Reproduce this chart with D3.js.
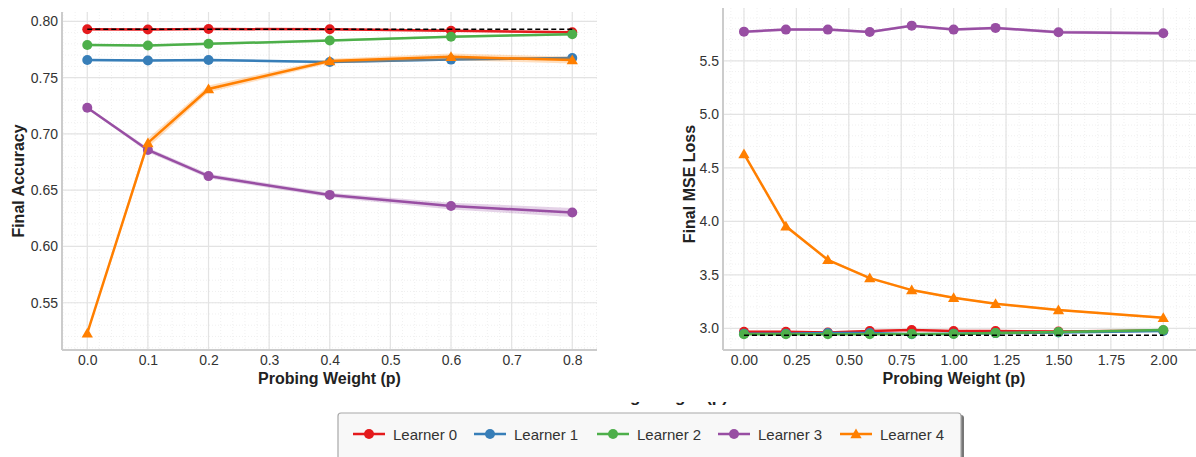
<!DOCTYPE html>
<html>
<head>
<meta charset="utf-8">
<script src="https://cdn.jsdelivr.net/npm/d3@7"></script>
<style>
  body { margin: 0; background: #fff; }
  svg text { font-family: "Liberation Sans", Arial, sans-serif; }
</style>
</head>
<body>
<svg id="chart" width="1196" height="457"></svg>
<script>
// ---- data ----
const learnerNames = ['Learner 0', 'Learner 1', 'Learner 2', 'Learner 3', 'Learner 4'];
const learnerColors = ['#e41a1c', '#377eb8', '#4daf4a', '#984ea3', '#ff7f00'];

const accX = [0.0, 0.1, 0.2, 0.4, 0.6, 0.8];
const accMean = [
  [0.7929, 0.7928, 0.7932, 0.7929, 0.7917, 0.7903],
  [0.7656, 0.7652, 0.7656, 0.7638, 0.7660, 0.7674],
  [0.7790, 0.7785, 0.7800, 0.7829, 0.7864, 0.7885],
  [0.7233, 0.6857, 0.6625, 0.6458, 0.6359, 0.6302],
  [0.5229, 0.6920, 0.7399, 0.7647, 0.7685, 0.7656]
];
const accStd = [
  [0.001, 0.001, 0.001, 0.001, 0.001, 0.001],
  [0.001, 0.001, 0.001, 0.001, 0.001, 0.001],
  [0.001, 0.001, 0.001, 0.001, 0.001, 0.001],
  [0.001, 0.002, 0.002, 0.002, 0.003, 0.004],
  [0.001, 0.004, 0.003, 0.002, 0.003, 0.003]
];
const accBaseline = 0.7929;
const accTicksX = [0.0, 0.1, 0.2, 0.3, 0.4, 0.5, 0.6, 0.7, 0.8];
const accTicksY = [0.55, 0.60, 0.65, 0.70, 0.75, 0.80];

const mseX = [0.0, 0.2, 0.4, 0.6, 0.8, 1.0, 1.2, 1.5, 2.0];
const mseMean = [
  [2.968, 2.968, 2.960, 2.975, 2.984, 2.975, 2.975, 2.970, 2.980],
  [2.950, 2.950, 2.955, 2.955, 2.945, 2.950, 2.955, 2.960, 2.975],
  [2.944, 2.944, 2.945, 2.945, 2.947, 2.947, 2.955, 2.965, 2.984],
  [5.773, 5.792, 5.792, 5.770, 5.829, 5.792, 5.808, 5.768, 5.758],
  [4.630, 3.953, 3.640, 3.469, 3.357, 3.285, 3.229, 3.170, 3.099]
];
const mseStd = [
  [0.008, 0.008, 0.008, 0.008, 0.008, 0.008, 0.008, 0.008, 0.008],
  [0.008, 0.008, 0.008, 0.008, 0.008, 0.008, 0.008, 0.008, 0.008],
  [0.008, 0.008, 0.008, 0.008, 0.008, 0.008, 0.008, 0.008, 0.008],
  [0.012, 0.012, 0.012, 0.012, 0.012, 0.012, 0.012, 0.015, 0.015],
  [0.010, 0.010, 0.010, 0.010, 0.010, 0.010, 0.010, 0.010, 0.010]
];
const mseBaseline = 2.934;
const mseTicksX = [0.0, 0.25, 0.5, 0.75, 1.0, 1.25, 1.5, 1.75, 2.0];
const mseTicksY = [3.0, 3.5, 4.0, 4.5, 5.0, 5.5];

const svg = d3.select('#chart');

function drawPanel(cfg){
  const x = d3.scaleLinear().domain(cfg.xDomain).range([cfg.left, cfg.right]);
  const y = d3.scaleLinear().domain(cfg.yDomain).range([cfg.bottom, cfg.top]);
  const g = svg.append('g');

  const clipId = 'clip-' + cfg.id;
  svg.append('clipPath').attr('id', clipId)
     .append('rect')
     .attr('x', cfg.left).attr('y', cfg.top)
     .attr('width', cfg.right - cfg.left).attr('height', cfg.bottom - cfg.top);

  // minor grid
  const minorX = d3.range(cfg.xDomain[0] - cfg.xDomain[0] % cfg.minorXStep, cfg.xDomain[1], cfg.minorXStep);
  const minorY = d3.range(Math.ceil(cfg.yDomain[0] / cfg.minorYStep) * cfg.minorYStep, cfg.yDomain[1], cfg.minorYStep);
  const grid = g.append('g').attr('clip-path', 'url(#' + clipId + ')');
  grid.selectAll('line.mx').data(minorX).enter().append('line')
      .attr('x1', d => x(d)).attr('x2', d => x(d))
      .attr('y1', cfg.top).attr('y2', cfg.bottom)
      .attr('stroke', '#ececec').attr('stroke-width', 0.8).attr('stroke-dasharray', '1,2');
  grid.selectAll('line.my').data(minorY).enter().append('line')
      .attr('x1', cfg.left).attr('x2', cfg.right)
      .attr('y1', d => y(d)).attr('y2', d => y(d))
      .attr('stroke', '#ececec').attr('stroke-width', 0.8).attr('stroke-dasharray', '1,2');

  // major grid
  grid.selectAll('line.gx').data(cfg.ticksX).enter().append('line')
      .attr('x1', d => x(d)).attr('x2', d => x(d))
      .attr('y1', cfg.top).attr('y2', cfg.bottom)
      .attr('stroke', '#e3e3e3').attr('stroke-width', 1.2);
  grid.selectAll('line.gy').data(cfg.ticksY).enter().append('line')
      .attr('x1', cfg.left).attr('x2', cfg.right)
      .attr('y1', d => y(d)).attr('y2', d => y(d))
      .attr('stroke', '#e3e3e3').attr('stroke-width', 1.2);

  // spines
  g.append('line').attr('x1', cfg.left).attr('x2', cfg.left)
   .attr('y1', cfg.top).attr('y2', cfg.bottom)
   .attr('stroke', '#cccccc').attr('stroke-width', 2);
  g.append('line').attr('x1', cfg.left).attr('x2', cfg.right)
   .attr('y1', cfg.bottom).attr('y2', cfg.bottom)
   .attr('stroke', '#cccccc').attr('stroke-width', 2);

  // tick labels via d3 axes (no tick lines)
  const xAxis = g.append('g').attr('transform', 'translate(0,' + cfg.bottom + ')')
     .call(d3.axisBottom(x).tickValues(cfg.ticksX).tickFormat(d3.format(cfg.xFmt)).tickSize(0).tickPadding(5));
  const yAxis = g.append('g').attr('transform', 'translate(' + cfg.left + ',0)')
     .call(d3.axisLeft(y).tickValues(cfg.ticksY).tickFormat(d3.format(cfg.yFmt)).tickSize(0).tickPadding(4));
  [xAxis, yAxis].forEach(a => {
    a.select('.domain').remove();
    a.selectAll('text').attr('font-size', 14).attr('fill', '#333')
     .style('font-family', '"Liberation Sans", Arial, sans-serif');
  });

  // axis titles
  g.append('text').text('Probing Weight (p)')
   .attr('x', (cfg.left + cfg.labelRight) / 2).attr('y', 384)
   .attr('text-anchor', 'middle').attr('font-size', 16).attr('font-weight', 'bold').attr('fill', '#222');
  g.append('text').text(cfg.yLabel)
   .attr('transform', 'translate(' + cfg.yLabelX + ',' + cfg.yLabelY + ') rotate(-90)')
   .attr('text-anchor', 'middle').attr('font-size', 16).attr('font-weight', 'bold').attr('fill', '#222');

  const plot = g.append('g').attr('clip-path', 'url(#' + clipId + ')');
  const band = d3.area().x(d => x(d.x)).y0(d => y(d.m - d.s)).y1(d => y(d.m + d.s));
  const line = d3.line().x(d => x(d.x)).y(d => y(d.m));

  cfg.mean.forEach((series, i) => {
    const pts = series.map((m, j) => ({x: cfg.xs[j], m: m, s: cfg.std[i][j]}));
    plot.append('path').datum(pts).attr('d', band)
        .attr('fill', learnerColors[i]).attr('opacity', 0.25);
    plot.append('path').datum(pts).attr('d', line)
        .attr('fill', 'none').attr('stroke', learnerColors[i]).attr('stroke-width', 2.5);
    if (i === 4) {
      plot.selectAll('path.m' + i).data(pts).enter().append('path')
          .attr('d', d3.symbol().type(d3.symbolTriangle).size(55))
          .attr('transform', d => 'translate(' + x(d.x) + ',' + (y(d.m) + 1) + ')')
          .attr('fill', learnerColors[i]);
    } else {
      plot.selectAll('circle.m' + i).data(pts).enter().append('circle')
          .attr('cx', d => x(d.x)).attr('cy', d => y(d.m)).attr('r', 5)
          .attr('fill', learnerColors[i]);
    }
  });

  plot.append('line')
      .attr('x1', x(cfg.xs[0])).attr('x2', x(cfg.xs[cfg.xs.length - 1]))
      .attr('y1', y(cfg.baseline)).attr('y2', y(cfg.baseline))
      .attr('stroke', '#000').attr('stroke-width', 1.5).attr('stroke-dasharray', '5,3');
}

drawPanel({
  id: 'acc', left: 62, right: 597, top: 12, bottom: 350, labelRight: 597,
  xDomain: [-0.0417, 0.8408], yDomain: [0.508, 0.8083],
  minorXStep: 0.02, minorYStep: 0.01,
  ticksX: accTicksX, ticksY: accTicksY, xFmt: '.1f', yFmt: '.2f',
  xs: accX, mean: accMean, std: accStd, baseline: accBaseline,
  yLabel: 'Final Accuracy', yLabelX: 24, yLabelY: 181
});

drawPanel({
  id: 'mse', left: 723, right: 1196, top: 8, bottom: 350, labelRight: 1185,
  xDomain: [-0.1, 2.156], yDomain: [2.797, 5.994],
  minorXStep: 0.0625, minorYStep: 0.1,
  ticksX: mseTicksX, ticksY: mseTicksY, xFmt: '.2f', yFmt: '.1f',
  xs: mseX, mean: mseMean, std: mseStd, baseline: mseBaseline,
  yLabel: 'Final MSE Loss', yLabelX: 695, yLabelY: 184
});

// leftover figure-level label, mostly hidden behind the legend
svg.append('clipPath').attr('id', 'clip-hidden')
   .append('rect').attr('x', 0).attr('y', 402).attr('width', 1196).attr('height', 11);
svg.append('text').text('Probing Weight (p)')
   .attr('clip-path', 'url(#clip-hidden)')
   .attr('x', 652).attr('y', 402).attr('text-anchor', 'middle')
   .attr('font-size', 17).attr('font-weight', 'bold').attr('fill', '#222');

// legend
const legend = svg.append('g');
legend.append('rect').attr('x', 340).attr('y', 415).attr('width', 624).attr('height', 60)
      .attr('rx', 3).attr('fill', '#777');
legend.append('rect').attr('x', 338).attr('y', 413).attr('width', 623).attr('height', 60)
      .attr('rx', 3).attr('fill', '#f8f8f8').attr('stroke', '#a8a8a8').attr('stroke-width', 1.2);

const legendX = [353, 474, 597, 718, 840];
const items = legend.selectAll('g.item').data(learnerNames).enter().append('g')
      .attr('transform', (d, i) => 'translate(' + legendX[i] + ',434)');
items.append('line').attr('x1', 0).attr('x2', 32).attr('y1', 0).attr('y2', 0)
     .attr('stroke', (d, i) => learnerColors[i]).attr('stroke-width', 2.5);
items.each(function(d, i){
  const it = d3.select(this);
  if (i === 4) {
    it.append('path').attr('d', d3.symbol().type(d3.symbolTriangle).size(55))
      .attr('transform', 'translate(16,1)').attr('fill', learnerColors[i]);
  } else {
    it.append('circle').attr('cx', 16).attr('cy', 0).attr('r', 5).attr('fill', learnerColors[i]);
  }
});
items.append('text').text(d => d).attr('x', 40).attr('y', 5.5)
     .attr('font-size', 15).attr('fill', '#333');
</script>
</body>
</html>
